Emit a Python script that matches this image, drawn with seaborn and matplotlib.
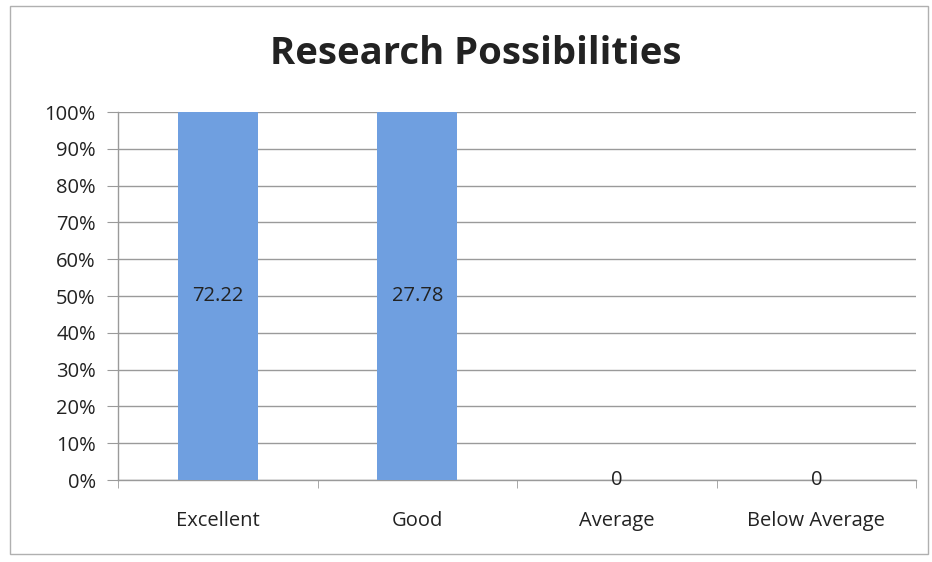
import matplotlib
matplotlib.use('Agg')
import matplotlib.pyplot as plt
import seaborn as sns
import pandas as pd
from matplotlib.ticker import PercentFormatter
from matplotlib.patches import Rectangle

# datos
categories = ['Excellent', 'Good', 'Average', 'Below Average']
values = [72.22, 27.78, 0, 0]

# 100% stacked with a single series: each non-zero bar fills the column
percent = [100 if v > 0 else 0 for v in values]
df = pd.DataFrame({'category': categories, 'value': values, 'percent': percent})

sns.set_style('white')
plt.rcParams['font.family'] = ['Open Sans', 'DejaVu Sans']

fig = plt.figure(figsize=(9.32, 5.62), dpi=100)
ax = fig.add_axes([118 / 932, 1 - 480 / 562, (916 - 118) / 932, (480 - 112) / 562])

sns.barplot(data=df, x='category', y='percent', color='#6f9fe0', width=0.4,
            saturation=1, linewidth=0, ax=ax, zorder=3)

ax.set_ylim(0, 100)
ax.set_xlim(-0.5, 3.5)
ax.set_yticks(range(0, 101, 10))
ax.yaxis.set_major_formatter(PercentFormatter(decimals=0))
ax.grid(axis='y', color='#9a9a9a', linewidth=1, zorder=0)
ax.set_axisbelow(True)

for side in ['top', 'right']:
    ax.spines[side].set_visible(False)
for side in ['left', 'bottom']:
    ax.spines[side].set_color('#9a9a9a')
    ax.spines[side].set_linewidth(1)

ax.tick_params(axis='y', length=8, color='#9a9a9a', labelsize=14.5,
               labelcolor='#222222', pad=8, left=True)
ax.tick_params(axis='x', which='major', length=0, labelsize=14.5,
               labelcolor='#222222', pad=22)
ax.set_xticks([-0.5, 0.5, 1.5, 2.5, 3.5], minor=True)
ax.tick_params(axis='x', which='minor', length=6, color='#9a9a9a', bottom=True)
ax.set_xlabel('')
ax.set_ylabel('')

# etiquetas de datos
for i, (v, p) in enumerate(zip(values, percent)):
    y = p / 2 if p > 0 else 0
    ax.text(i, y, f'{v:g}' if v == 0 else f'{v:.2f}', ha='center', va='center',
            fontsize=14.5, color='#222222', zorder=5)

fig.text(476 / 932, 1 - 54 / 562, 'Research Possibilities', ha='center',
         va='center', fontsize=27.5, fontweight='bold', color='#222222')

# borde del área del gráfico
fig.patches.append(Rectangle((10 / 932, 8 / 562), 918 / 932, 548 / 562,
                             transform=fig.transFigure, fill=False,
                             edgecolor='#b0b0b0', linewidth=1))

fig.savefig('out.png', dpi=100)
